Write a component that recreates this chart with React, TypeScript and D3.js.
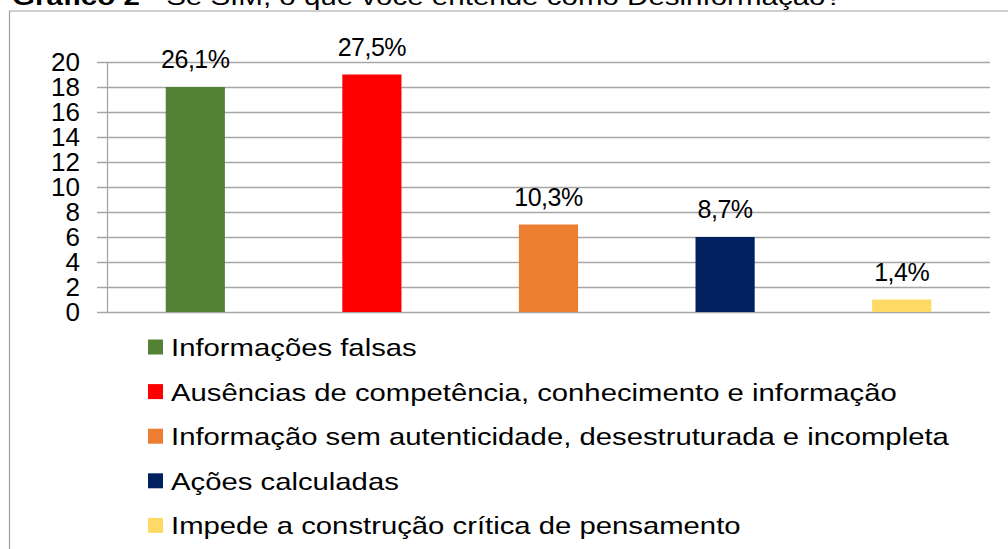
import React from "react";
import * as d3 from "d3";

const categories = [
  "Informações falsas",
  "Ausências de competência, conhecimento e informação",
  "Informação sem autenticidade, desestruturada e incompleta",
  "Ações calculadas",
  "Impede a construção crítica de pensamento",
];
const values = [18, 19, 7, 6, 1];
const percentLabels = ["26,1%", "27,5%", "10,3%", "8,7%", "1,4%"];
const colors = ["#548235", "#ff0000", "#ed7d31", "#002060", "#ffd966"];
const yTicks = [0, 2, 4, 6, 8, 10, 12, 14, 16, 18, 20];

const W = 1008;
const H = 549;
const FONT = "Arial, Liberation Sans, sans-serif";

export default function App() {
  const x = d3.scaleBand<number>().domain(d3.range(categories.length)).range([107, 990]).paddingInner(0.665).paddingOuter(0.3325);
  const y = d3.scaleLinear().domain([0, 20]).range([312, 62]);
  const grid = "#a6a6a6";
  const legendY0 = 347;
  const legendStep = 44.6;
  return (
    <svg width={W} height={H} style={{ position: "absolute", left: 0, top: 0, background: "#fff", fontFamily: FONT }}>
      <rect x={0} y={0} width={W} height={H} fill="#fff" />
      <text transform="translate(12,5) scale(1.23,1)" fontSize={24} fill="#000">
        <tspan fontWeight="bold">Gráfico 2</tspan>
        <tspan> - Se SIM, o que você entende como Desinformação?</tspan>
      </text>
      <path d={`M9.5,${H + 2} V11 H${W + 2}`} fill="none" stroke="#a0a0a0" strokeWidth={1.2} />
      {yTicks.map((t) => (
        <g key={t}>
          <line x1={97} x2={990} y1={Math.round(y(t)) + 0.5} y2={Math.round(y(t)) + 0.5} stroke={grid} strokeWidth={1.3} />
          <text x={80} y={y(t)} dy="0.36em" textAnchor="end" fontSize={26} fill="#000">{t}</text>
        </g>
      ))}
      <line x1={107.5} x2={107.5} y1={62} y2={312} stroke={grid} strokeWidth={1.3} />
      {values.map((v, i) => (
        <g key={i}>
          <rect x={x(i)} y={y(v)} width={x.bandwidth()} height={y(0) - y(v)} fill={colors[i]} />
          <text x={(x(i) as number) + x.bandwidth() / 2} y={y(v) - 19} textAnchor="middle" fontSize={25} letterSpacing={-0.5} fill="#000">{percentLabels[i]}</text>
        </g>
      ))}
      {categories.map((c, i) => {
        const cy = legendY0 + i * legendStep;
        return (
          <g key={c}>
            <rect x={148} y={cy - 7.5} width={15} height={15} fill={colors[i]} />
            <text transform={`translate(171,${cy + 9}) scale(1.22,1)`} fontSize={24} fill="#000">{c}</text>
          </g>
        );
      })}
    </svg>
  );
}
